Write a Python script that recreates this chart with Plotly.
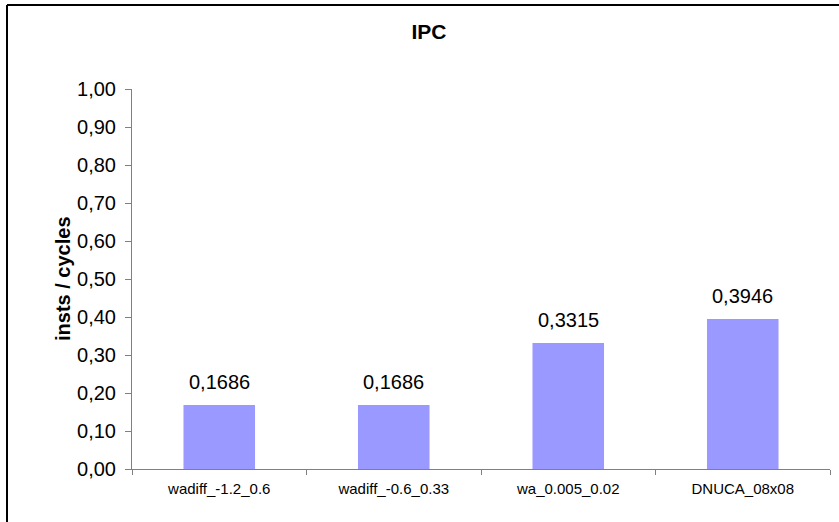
import plotly.graph_objects as go

categories = ["wadiff_-1.2_0.6", "wadiff_-0.6_0.33", "wa_0.005_0.02", "DNUCA_08x08"]
ipc_values = [0.1686, 0.1686, 0.3315, 0.3946]
y_ticks = [0.0, 0.1, 0.2, 0.3, 0.4, 0.5, 0.6, 0.7, 0.8, 0.9, 1.0]

W, H = 839, 522
ml, mr, mt, mb = 132, 9, 89, 53
pw, ph = W - ml - mr, H - mt - mb
FONT = "Liberation Sans, Arial"

fig = go.Figure()
fig.add_trace(go.Bar(
    x=categories, y=ipc_values,
    marker=dict(color="#9999FF", line=dict(width=0)),
    hoverinfo="skip",
))

for c, v in zip(categories, ipc_values):
    fig.add_annotation(
        x=c, y=v, xref="x", yref="y",
        text=f"{v:.4f}".replace(".", ","),
        showarrow=False, yanchor="bottom", yshift=10,
        font=dict(family=FONT, size=20, color="black"),
    )

# y-axis title
fig.add_annotation(
    x=(50 - ml) / pw, y=0.5, xref="paper", yref="paper",
    text="<b>insts / cycles</b>", textangle=-90, showarrow=False,
    font=dict(family=FONT, size=20, color="black"),
)

# chart border: only top and left edges visible in the reference
x_left = (7 - ml) / pw
y_top = ((H - mb) - 5) / ph
fig.add_shape(
    type="line", xref="paper", yref="paper",
    x0=x_left, x1=(W + 100 - ml) / pw, y0=y_top, y1=y_top,
    line=dict(color="black", width=2), layer="below",
)
fig.add_shape(
    type="line", xref="paper", yref="paper",
    x0=x_left, x1=x_left, y0=y_top, y1=-(mb + 100) / ph,
    line=dict(color="black", width=2), layer="below",
)

fig.update_layout(
    width=W, height=H,
    margin=dict(l=ml, r=mr, t=mt, b=mb),
    paper_bgcolor="white", plot_bgcolor="white",
    separators=",.",
    bargap=0.59,
    showlegend=False,
    title=dict(
        text="<b>IPC</b>", x=429 / W, y=1 - 32 / H,
        xref="container", yref="container", xanchor="center", yanchor="middle",
        font=dict(family=FONT, size=21, color="black"),
    ),
    xaxis=dict(
        showline=True, linecolor="#808080", linewidth=1,
        ticks="outside", tickson="boundaries", ticklen=5, tickcolor="#808080",
        tickfont=dict(family=FONT, size=15, color="black"),
        showgrid=False, zeroline=False, fixedrange=True,
        ticklabelstandoff=6,
    ),
    yaxis=dict(
        range=[0, 1.0], tickvals=y_ticks, tickformat=".2f",
        showline=True, linecolor="#808080", linewidth=1,
        ticks="outside", ticklen=6, tickcolor="#808080",
        tickfont=dict(family=FONT, size=20, color="black"),
        showgrid=False, zeroline=False, fixedrange=True,
        ticklabelstandoff=5,
    ),
)

fig.write_html(
    "out.html",
    config={"displayModeBar": False},
    post_script=(
        "document.body.style.margin='0';"
        "document.body.style.overflow='hidden';"
        "document.documentElement.style.overflow='hidden';"
    ),
)
